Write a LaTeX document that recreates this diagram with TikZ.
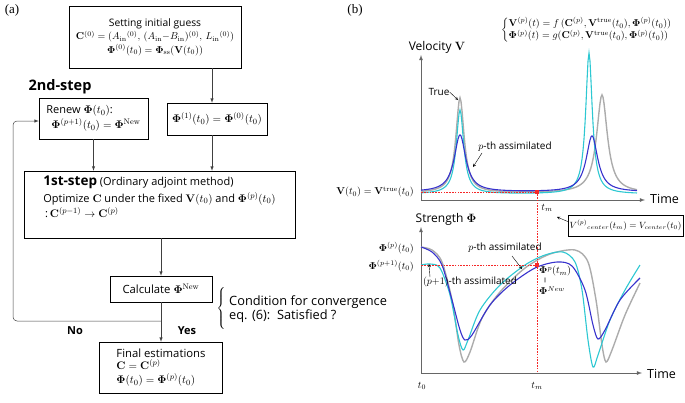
\documentclass[tikz,border=0pt]{standalone}
\usepackage{amsmath}
\usepackage[no-math]{fontspec}
\setmainfont{Liberation Serif}
\setsansfont{Open Sans}
\usepackage{tikz}
\usetikzlibrary{arrows,%
                positioning}

\definecolor{curvegray}{RGB}{172,172,172}
\definecolor{curvecyan}{RGB}{45,200,210}
\definecolor{curveblue}{RGB}{55,50,205}
\definecolor{markred}{RGB}{245,40,40}

\newcommand{\fsz}[1]{\fontsize{#1}{1.2\dimexpr#1pt\relax}\selectfont}

\begin{document}
\begin{tikzpicture}[x=1pt,y=-1pt,>=latex,
    declare function={lor(\t,\c,\w)=1/(1+((\t-\c)/\w)*((\t-\c)/\w));},
    every node/.style={font=\sffamily\fsz{10}, inner sep=0pt},
    flowbox/.style={draw, line width=0.5pt},
    flowarrow/.style={->, line width=0.5pt, draw=black!75},
    axisline/.style={->, line width=0.8pt, draw=black!60},
    leader/.style={->, >=stealth, line width=0.4pt},
    markline/.style={color=markred, dash pattern=on 1.6pt off 1.2pt, line width=0.9pt},
    markdot/.style={fill=markred, minimum size=4pt},
    curve/.style={line width=1.1pt}]
    \useasboundingbox (0,0) rectangle (685,402);

    \node[font=\rmfamily\fsz{13}] (tagA) at (12,10){(a)};
    \node[font=\rmfamily\fsz{13}] (tagB) at (355,10){(b)};

    \node[flowbox, minimum width=172, minimum height=62, align=center, font=\sffamily\fsz{10.3}] (init) at (155,37)
        {Setting initial guess\\[1pt]
         $\mathbf{C}^{(0)}=(A_{\mathrm{in}}{}^{(0)},\,(A_{\mathrm{in}}{-}B_{\mathrm{in}})^{(0)},\,L_{\mathrm{in}}{}^{(0)})$\\[1pt]
         $\mathbf{\Phi}^{(0)}(t_0)=\mathbf{\Phi}_{\mathrm{ss}}(\mathbf{V}(t_0))$};
    \node[font=\sffamily\bfseries\fsz{14.5}] (second) at (60,87){2nd-step};
    \node[flowbox, minimum width=109, minimum height=41, align=left, font=\sffamily\fsz{11}] (renew) at (93.5,118.5)
        {Renew $\mathbf{\Phi}(t_0)$:\\[2pt]
         \hspace{5pt}$\mathbf{\Phi}^{(p+1)}(t_0)=\mathbf{\Phi}^{\mathrm{New}}$};
    \node[flowbox, minimum width=100, minimum height=32, font=\sffamily\fsz{11}] (phione) at (217,119)
        {$\mathbf{\Phi}^{(1)}(t_0)=\mathbf{\Phi}^{(0)}(t_0)$};
    \node[flowbox, minimum width=271, minimum height=67, align=left, font=\sffamily\fsz{11}] (adjoint) at (159.5,204.5)
        {{\bfseries\fsz{13.5}1st-step} (Ordinary adjoint method)\\[3pt]
         Optimize $\mathbf{C}$ under the fixed $\mathbf{V}(t_0)$ and $\mathbf{\Phi}^{(p)}(t_0)$\\[2pt]
         \,:\,$\mathbf{C}^{(p-1)}\to\mathbf{C}^{(p)}$\\[3pt]};
    \node[flowbox, minimum width=102, minimum height=26, font=\sffamily\fsz{11.3}] (calc) at (161,289)
        {Calculate $\mathbf{\Phi}^{\mathrm{New}}$};
    \node[flowbox, minimum width=123, minimum height=51, align=left, font=\sffamily\fsz{11.3}] (final) at (161,367.5)
        {Final estimations\\[-1pt]
         $\mathbf{C}=\mathbf{C}^{(p)}$\\[0pt]
         $\mathbf{\Phi}(t_0)=\mathbf{\Phi}^{(p)}(t_0)$};
    \node[font=\sffamily\bfseries\fsz{11}] (no) at (75,331){No};
    \node[font=\sffamily\bfseries\fsz{11}] (yes) at (187,331){Yes};
    \node[anchor=west, align=left, font=\sffamily\fsz{12.8}] (cond) at (229,309)
        {Condition for convergence\\[-2pt]eq. (6):\ \ Satisfied ?};
    \node[anchor=east] (condbrace) at ([xshift=-2pt]cond.west){$\left\{\vphantom{\rule[-20pt]{0pt}{40pt}}\right.$};

    \coordinate (phitop) at ([xshift=-5pt]phione.north);
    \coordinate (phibot) at ([xshift=-5pt]phione.south);
    \coordinate (branch) at (calc.south |- 0,321);
    \coordinate (loopcorner) at (13,121);
    \draw[flowarrow] (init.south -| phitop) -- (phitop);
    \draw[flowarrow] (phibot) -- (phibot |- adjoint.north);
    \draw[flowarrow] (renew.south) -- (renew.south |- adjoint.north);
    \draw[flowarrow] (adjoint.south -| calc.north) -- (calc.north);
    \draw[flowarrow] (calc.south) -- (final.north);
    \draw[flowarrow, rounded corners=4] (branch) -| (loopcorner) -- (renew.west |- loopcorner);

    \node[anchor=west, font=\sffamily\fsz{9.6}] (model) at (501,30)
        {$\left\{\begin{array}{@{}l@{}}
         \mathbf{V}^{(p)}(t)=f\,(\mathbf{C}^{(p)},\mathbf{V}^{\mathrm{true}}(t_0),\mathbf{\Phi}^{(p)}(t_0))\\
         \mathbf{\Phi}^{(p)}(t)=g(\mathbf{C}^{(p)},\mathbf{V}^{\mathrm{true}}(t_0),\mathbf{\Phi}^{(p)}(t_0))
         \end{array}\right.$};

    \coordinate (vo) at (421,200);
    \coordinate (vtop) at (421,55);
    \coordinate (vend) at (645,200);
    \node[font=\sffamily\fsz{12}] (vlabel) at (437,47){Velocity $\mathbf{V}$};
    \node[anchor=west, font=\sffamily\fsz{12.5}] (vtime) at (650,199){Time};
    \node[anchor=east] (vzero) at (414,192){$\mathbf{V}(t_0)=\mathbf{V}^{\mathrm{true}}(t_0)$};
    \draw[axisline] (vo) -- (vtop);
    \draw[axisline] (vo) -- (vend);

    \draw[curve, curvegray, line width=1.4pt] plot[domain=421:637, samples=217]
        (\x, {193-95*lor(\x,460,5)-98*lor(\x,602,6.5)});
    \draw[curve, curvecyan] plot[domain=421:637, samples=217]
        (\x, {194-84*lor(\x,460,4.5)-141*lor(\x,589,4)});
    \draw[curve, curveblue] plot[domain=421:637, samples=217]
        (\x, {192-57*lor(\x,460,7)-56*lor(\x,592,7)});

    \node (truelbl) at (439,92){True};
    \coordinate (truepk) at (458,100);
    \draw[leader] (truelbl.east) -- (truepk);
    \node (vpth) at (515,147){$p$-th assimilated};
    \coordinate (vpthpt) at (473,167);
    \draw[leader] (482,153) -- (vpthpt);

    \node (tmtop) at (547,208){$t_m$};
    \node[flowbox, minimum width=115, minimum height=21, font=\sffamily\fsz{9}] (centerbox) at (625.5,225.5)
        {$V^{(p)}{}_{center}(t_m)=V_{center}(t_0)$};
    \coordinate (tmpoint) at (557,217);
    \draw[leader] ([yshift=4pt]centerbox.west) -- (tmpoint);

    \coordinate (so) at (421,373);
    \coordinate (stop) at (421,227);
    \coordinate (send) at (642,373);
    \node[font=\sffamily\fsz{12}] (slabel) at (446,219){Strength $\mathbf{\Phi}$};
    \node[anchor=west, font=\sffamily\fsz{12.5}] (stime) at (647,374){Time};
    \node[anchor=east] (phip) at (414,248){$\mathbf{\Phi}^{(p)}(t_0)$};
    \node[anchor=east] (phipone) at (414,266){$\mathbf{\Phi}^{(p+1)}(t_0)$};
    \node (tzero) at (422,386){$t_0$};
    \node (tmbot) at (537,386){$t_m$};
    \draw[axisline] (so) -- (stop);
    \draw[axisline] (so) -- (send);

    \draw[curve, curvegray, line width=1.4pt] plot[smooth, tension=0.5] coordinates {
        (421,247) (432,250) (442,262) (452,300) (459,345) (464,362) (470,352) (482,318)
        (500,292) (525,268) (550,254) (575,250) (588,262) (596,300) (602,345) (606,362)
        (612,350) (625,315) (640,283)};
    \draw[curve, curvecyan] plot[smooth, tension=0.5] coordinates {
        (421,265) (430,264) (440,268) (450,295) (458,335) (463,350) (468,340) (480,310)
        (500,285) (525,265) (545,255) (563,252) (575,262) (582,290) (588,340) (593,367)
        (598,355) (610,320) (625,290) (640,265)};
    \draw[curve, curveblue] plot[smooth, tension=0.5] coordinates {
        (421,247) (432,252) (442,265) (452,300) (460,330) (465,340) (472,335) (490,305)
        (510,285) (535,268) (557,262) (572,266) (585,290) (593,325) (598,339) (605,330)
        (620,300) (640,278)};

    \node[markdot] (vmark) at (537,192){};
    \node[markdot] (smark) at (537,265){};
    \draw[markline] (vmark) -- (vmark -| vo);
    \draw[markline] (smark) -- (smark -| so);
    \draw[markline] (vmark) -- (vmark |- so);

    \node (spth) at (505,248){$p$-th assimilated};
    \coordinate (spthpt) at (522,269);
    \draw[leader] (512,256) -- (spthpt);
    \node (sponeth) at (470,282){$(p{+}1)$-th assimilated};
    \coordinate (sponept) at (429,264);
    \draw[leader] (430,277) -- (sponept);
    \node[anchor=north west, align=left] (phinew) at (539,266)
        {$\mathbf{\Phi}^{p}(t_m)$\\[-2pt]
         \hspace{5pt}\rotatebox{90}{\scriptsize$=$}\\[-1pt]
         $\mathbf{\Phi}^{New}$};
\end{tikzpicture}
\end{document}
